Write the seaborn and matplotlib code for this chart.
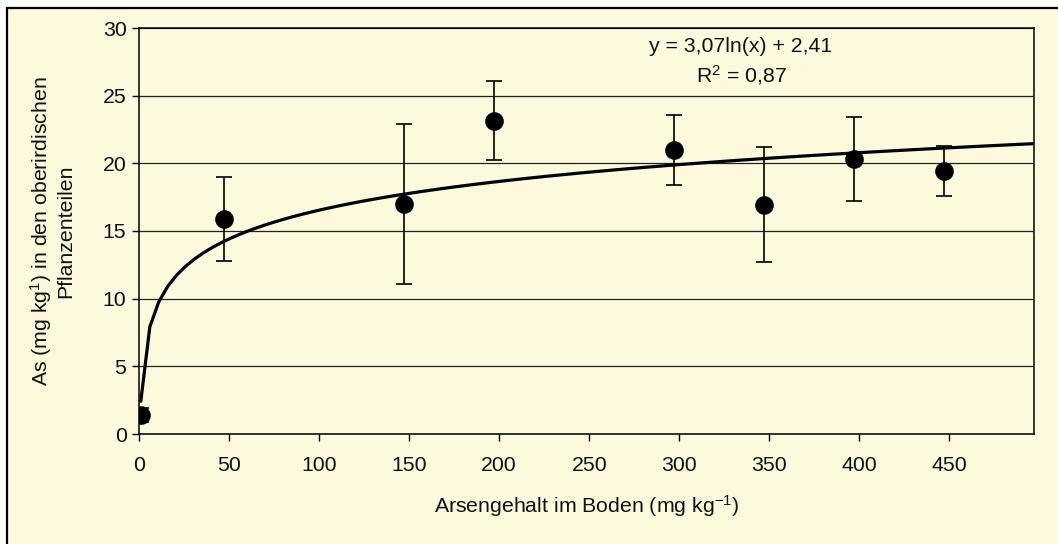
import numpy as np
import pandas as pd
import matplotlib
matplotlib.use("Agg")
import matplotlib.pyplot as plt
from matplotlib.patches import Rectangle
import seaborn as sns

# Data
soil_as = [1, 47, 147, 197, 297, 347, 397, 447]          # mg/kg in soil
plant_as = [1.4, 15.9, 17.0, 23.15, 21.0, 16.95, 20.3, 19.4]
plant_err = [0.5, 3.1, 5.9, 2.9, 2.6, 4.25, 3.1, 1.85]
y_ticks = [0, 5, 10, 15, 20, 25, 30]
x_ticks = [0, 50, 100, 150, 200, 250, 300, 350, 400, 450]
equation_text = "y = 3,07ln(x) + 2,41"
r2_text = "R$^{2}$ = 0,87"

df = pd.DataFrame({"x": soil_as, "y": plant_as, "err": plant_err})

sns.set_theme(style="white")
plt.rcParams["font.family"] = ["Liberation Sans", "DejaVu Sans"]
plt.rcParams["mathtext.fontset"] = "custom"
plt.rcParams["mathtext.rm"] = "Liberation Sans"
plt.rcParams["mathtext.it"] = "Liberation Sans:italic"
plt.rcParams["mathtext.bf"] = "Liberation Sans:bold"

bg = "#FDF9DC"
fs = 15.3
W, H = 1058, 544
fig = plt.figure(figsize=(W / 100, H / 100), dpi=100, facecolor="white")

# outer chart frame
fig.patches.append(Rectangle((7 / W, -0.05), 1.1, (H - 8) / H + 0.05,
                             transform=fig.transFigure, facecolor=bg,
                             edgecolor="black", linewidth=1.6, zorder=-10))

ax = fig.add_axes([139 / W, (H - 434) / H, (1034 - 139) / W, (434 - 28) / H])
ax.set_zorder(1)
ax.set_facecolor(bg)

# logarithmic trendline fitted to the data (as in the chart)
ax.set_xlim(1, 497)
sns.regplot(data=df, x="x", y="y", logx=True, ci=None, scatter=False,
            truncate=False, ax=ax,
            line_kws=dict(color="black", linewidth=2.3, zorder=3))

# error bars and points
ax.errorbar(df["x"], df["y"], yerr=df["err"], fmt="none", ecolor="black",
            elinewidth=1.2, capsize=5.5, capthick=1.2, zorder=4)
sns.scatterplot(data=df, x="x", y="y", ax=ax, color="black", s=180,
                edgecolor="black", linewidth=0, zorder=5, legend=False)

ax.set_xlim(0, 497)
ax.set_ylim(0, 30)
ax.set_xticks(x_ticks)
ax.set_yticks(y_ticks)
ax.yaxis.grid(True, color="#222222", linewidth=0.9)
ax.xaxis.grid(False)
ax.set_axisbelow(True)
for s in ax.spines.values():
    s.set_visible(True)
    s.set_color("black")
    s.set_linewidth(1.1)
ax.tick_params(axis="both", direction="out", length=5, width=1, color="black",
               labelsize=fs, labelcolor="#111111", pad=4, left=True, bottom=True)
ax.tick_params(axis="x", pad=11)

ax.set_xlabel("Arsengehalt im Boden (mg kg$^{-1}$)", fontsize=fs, color="#111111",
              labelpad=13)
ax.set_ylabel("As (mg kg$^{1}$) in den oberirdischen\nPflanzenteilen", fontsize=fs,
              color="#111111", labelpad=20, linespacing=1.1)

fig.text(741 / W, (H - 47) / H, equation_text,
         ha="center", va="center", fontsize=fs, color="#111111", zorder=10)
fig.text(741 / W, (H - 75) / H, r2_text,
         ha="center", va="center", fontsize=fs, color="#111111", zorder=10)

fig.savefig("out.png", dpi=100, facecolor="white")
